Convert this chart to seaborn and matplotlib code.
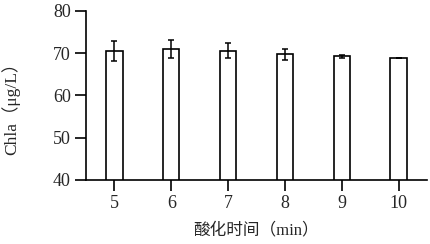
import matplotlib
matplotlib.use("Agg")
import matplotlib.pyplot as plt
import seaborn as sns
import pandas as pd
import numpy as np

times = ["5", "6", "7", "8", "9", "10"]
chla = [70.6, 71.0, 70.6, 69.8, 69.3, 68.9]
err = [2.4, 2.1, 1.8, 1.3, 0.4, 0.0]

df = pd.DataFrame({"time": times, "chla": chla})

sns.set_style("ticks")
plt.rcParams['font.family'] = ['Liberation Serif', 'Noto Sans CJK SC']

fig = plt.figure(figsize=(4.3, 2.44), dpi=100)
ax = fig.add_axes([86 / 430, 1 - 180 / 244, 341 / 430, 169 / 244])

sns.barplot(data=df, x="time", y="chla", color="white", edgecolor="black",
            linewidth=1.2, width=0.29, errorbar=None, ax=ax)
for bar in ax.patches:
    bar.set_facecolor("white")
ax.errorbar(np.arange(len(times)), chla, yerr=err, fmt="none", ecolor="black",
            elinewidth=1.1, capsize=2.5, capthick=1.1)

ax.set_ylim(40, 80)
ax.set_xlim(-0.5, 5.5)
ax.set_yticks([40, 50, 60, 70, 80])
ax.set_ylabel("Chla（μg/L）", fontsize=12.5)
ax.set_xlabel("酸化时间（min）", fontsize=12)
ax.yaxis.set_label_coords(-66 / 341, 0.45)
ax.xaxis.set_label_coords(0.5, -42 / 169)
ax.tick_params(axis="both", labelsize=13, length=8, width=1.2, color="black", pad=3)
sns.despine(ax=ax)
for s in ["left", "bottom"]:
    ax.spines[s].set_linewidth(1.2)
    ax.spines[s].set_color("black")

fig.savefig("out.png", dpi=100)
